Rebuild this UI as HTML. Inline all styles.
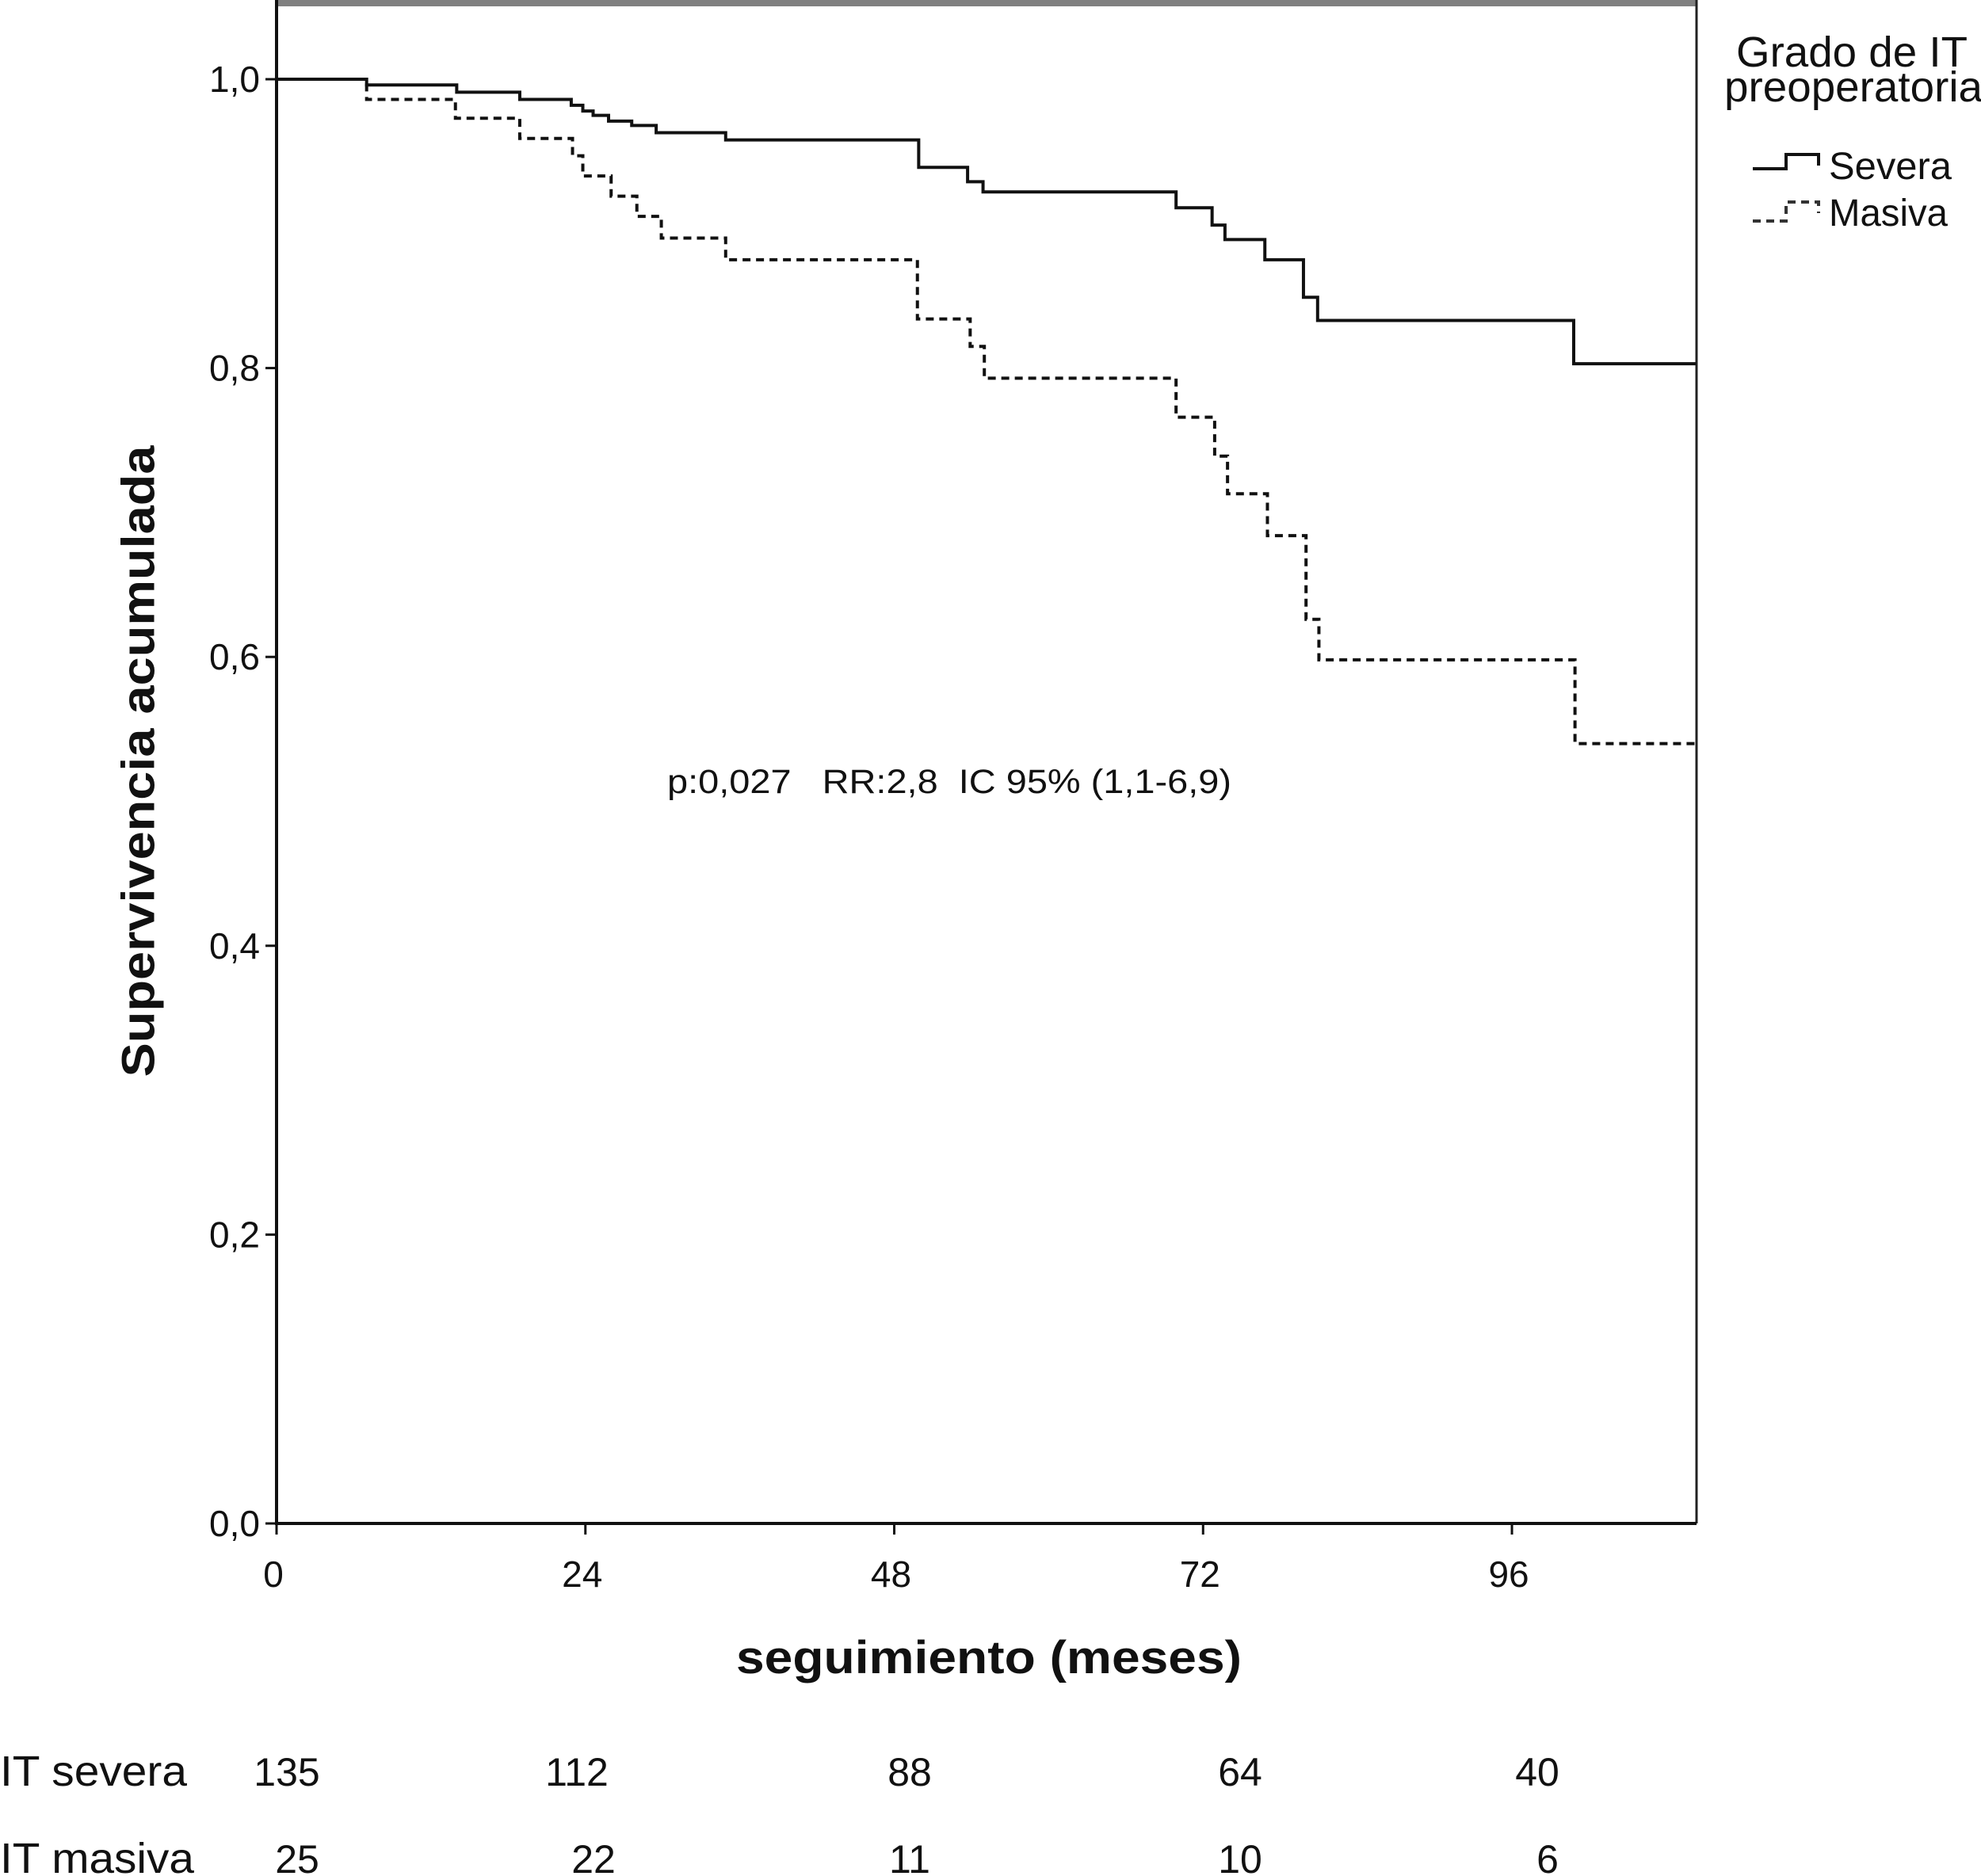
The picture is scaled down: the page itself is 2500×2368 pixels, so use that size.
<!DOCTYPE html>
<html><head><meta charset="utf-8"><style>
html,body{margin:0;padding:0;background:#fff;}
svg{display:block;}
text{font-family:"Liberation Sans",Arial,sans-serif;fill:#111;}
</style></head><body>
<svg id="chart" width="2500" height="2368" viewBox="0 0 2500 2368">
<rect x="0" y="0" width="2500" height="2368" fill="#fff"/>
<line x1="349" y1="4" x2="2141" y2="4" stroke="#808080" stroke-width="8"/>
<line x1="2141" y1="0" x2="2141" y2="1923" stroke="#222" stroke-width="3"/>
<line x1="349" y1="0" x2="349" y2="1924" stroke="#111" stroke-width="4"/>
<line x1="347" y1="1923" x2="2141" y2="1923" stroke="#111" stroke-width="4"/>
<g id="yticks"></g>
<g id="xticks"></g>
<g id="curves"></g>
<text x="179" y="961" transform="rotate(-90 179 961)" text-anchor="middle" dominant-baseline="middle" font-size="58" font-weight="bold" textLength="797" lengthAdjust="spacingAndGlyphs">Supervivencia acumulada</text>
<text x="1248" y="2112" text-anchor="middle" font-size="58" font-weight="bold" textLength="638" lengthAdjust="spacingAndGlyphs">seguimiento (meses)</text>
<text x="842" y="1001" font-size="43" style="white-space:pre" xml:space="preserve" textLength="712" lengthAdjust="spacingAndGlyphs">p:0,027   RR:2,8  IC 95% (1,1-6,9)</text>
<g>
<text x="2337" y="84" text-anchor="middle" font-size="54" textLength="292" lengthAdjust="spacingAndGlyphs">Grado de IT</text>
<text x="2176" y="128" font-size="54" textLength="326" lengthAdjust="spacingAndGlyphs">preoperatoria</text>
<path d="M2212 213 H2254 V195 H2295 V209" fill="none" stroke="#111" stroke-width="4"/>
<text x="2308" y="226" font-size="48" textLength="155" lengthAdjust="spacingAndGlyphs">Severa</text>
<path d="M2212 279 H2254 V255 H2295 V269" fill="none" stroke="#333" stroke-width="4" stroke-dasharray="10 7"/>
<text x="2308" y="285" font-size="48" textLength="150" lengthAdjust="spacingAndGlyphs">Masiva</text>
</g>
<g id="risk">
<text x="0" y="2254" font-size="54" font-family="DejaVu Sans, sans-serif" textLength="236" lengthAdjust="spacingAndGlyphs">IT severa</text>
<text x="0" y="2364" font-size="54" font-family="DejaVu Sans, sans-serif" textLength="245" lengthAdjust="spacingAndGlyphs">IT masiva</text>
</g>
</svg>
<script>
const xTicks = [0, 24, 48, 72, 96];
const yTicks = [0, 0.2, 0.4, 0.6, 0.8, 1.0];
const yTickLabels = ["0,0", "0,2", "0,4", "0,6", "0,8", "1,0"];
const severaTimes = [0, 7, 14, 18.9, 22.9, 23.8, 24.6, 25.8, 27.6, 29.5, 34.9, 49.9, 53.7, 54.9, 69.9, 72.7, 73.7, 76.8, 79.8, 80.9, 100.8];
const severaSurv  = [1, 0.996, 0.991, 0.986, 0.982, 0.978, 0.975, 0.971, 0.968, 0.963, 0.958, 0.939, 0.929, 0.922, 0.911, 0.899, 0.889, 0.875, 0.849, 0.833, 0.803];
const masivaTimes = [0, 7, 13.9, 18.9, 23.0, 23.8, 26.0, 28.0, 29.9, 34.9, 49.8, 53.9, 55.0, 69.9, 72.9, 73.9, 77.0, 80.0, 81.0, 100.9];
const masivaSurv  = [1, 0.986, 0.973, 0.959, 0.947, 0.933, 0.919, 0.905, 0.890, 0.875, 0.834, 0.815, 0.793, 0.766, 0.739, 0.713, 0.684, 0.626, 0.598, 0.540];
const maxTime = 110.3;
const riskTimes = [0, 24, 48, 72, 96];
const riskSevera = [135, 112, 88, 64, 40];
const riskMasiva = [25, 22, 11, 10, 6];

const NS = "http://www.w3.org/2000/svg";
const X0 = 349, XPER = 16.24, Y0 = 1923, YH = 1823;
function xs(m){ return X0 + m * XPER; }
function ys(s){ return Y0 - s * YH; }
function mk(tag, attrs, parent){
  const e = document.createElementNS(NS, tag);
  for (const k in attrs) e.setAttribute(k, attrs[k]);
  parent.appendChild(e);
  return e;
}
const yg = document.getElementById('yticks');
yTicks.forEach((v, i) => {
  const t = mk('line', {x1: 335, x2: 349, y1: ys(v), y2: ys(v), stroke: '#111', 'stroke-width': 3}, yg);
  
  
  const l = mk('text', {x: 328, y: ys(v) + 16, 'text-anchor': 'end', 'font-size': 46}, yg);
  l.textContent = yTickLabels[i];
  
  
});
const xg = document.getElementById('xticks');
xTicks.forEach(v => {
  const t = mk('line', {x1: xs(v), x2: xs(v), y1: 1923, y2: 1937, stroke: '#111', 'stroke-width': 3}, xg);
  
  
  const l = mk('text', {x: xs(v) - 4, y: 2003, 'text-anchor': 'middle', 'font-size': 46}, xg);
  l.textContent = String(v);
  
  
});
function stepPath(times, surv){
  let d = 'M' + xs(times[0]) + ' ' + ys(surv[0]);
  for (let i = 1; i < times.length; i++){
    d += ' H' + xs(times[i]) + ' V' + ys(surv[i]);
  }
  d += ' H' + xs(maxTime);
  return d;
}
const cg = document.getElementById('curves');
const ps = mk('path', {d: stepPath(severaTimes, severaSurv), fill: 'none', stroke: '#111', 'stroke-width': 4}, cg);


const pm = mk('path', {d: stepPath(masivaTimes, masivaSurv), fill: 'none', stroke: '#111', 'stroke-width': 4, 'stroke-dasharray': '10 7'}, cg);


const rg = document.getElementById('risk');
const sevX = [362, 728, 1148, 1565, 1940];
const masX = [375, 749, 1148, 1565, 1953];
riskTimes.forEach((t, i) => {
  const a = mk('text', {x: sevX[i], y: 2254, 'text-anchor': 'middle', 'font-size': 50, 'font-family': 'DejaVu Sans, sans-serif'}, rg);
  a.textContent = String(riskSevera[i]);
  
  
  const b = mk('text', {x: masX[i], y: 2364, 'text-anchor': 'middle', 'font-size': 50, 'font-family': 'DejaVu Sans, sans-serif'}, rg);
  b.textContent = String(riskMasiva[i]);
  
  
});
</script>
</body></html>
